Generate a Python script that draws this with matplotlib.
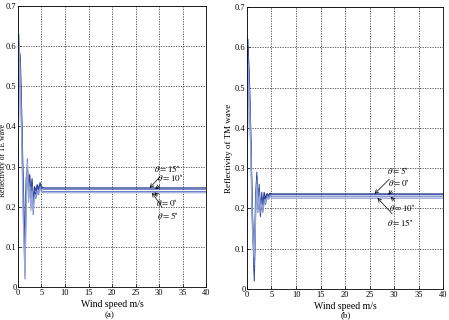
import matplotlib.pyplot as plt

plt.rcParams['font.family'] = ['Liberation Serif', 'DejaVu Serif']
plt.rcParams['mathtext.fontset'] = 'stix'

# wind speed samples (m/s)
wind = [0, 0.2, 0.5, 0.8, 1.1, 1.5, 1.75, 2.0, 2.25, 2.5, 2.75, 3.0, 3.25, 3.5, 3.8, 4.1, 4.4, 4.7, 5.0, 5.5, 40]

# TE wave reflectivity, panel (a)
te_0 = [0.15, 0.63, 0.52, 0.38, 0.20, 0.02, 0.22, 0.32, 0.22, 0.26, 0.20, 0.25, 0.18, 0.23, 0.22, 0.24, 0.23, 0.25, 0.24, 0.238, 0.238]
te_5 = [0.14, 0.62, 0.50, 0.36, 0.18, 0.03, 0.20, 0.31, 0.21, 0.25, 0.19, 0.24, 0.19, 0.22, 0.23, 0.23, 0.24, 0.245, 0.236, 0.235, 0.235]
te_10 = [0.16, 0.61, 0.55, 0.40, 0.24, 0.06, 0.25, 0.30, 0.24, 0.27, 0.22, 0.26, 0.20, 0.24, 0.23, 0.25, 0.24, 0.255, 0.246, 0.244, 0.244]
te_15 = [0.17, 0.60, 0.57, 0.43, 0.27, 0.09, 0.27, 0.29, 0.25, 0.28, 0.23, 0.27, 0.21, 0.25, 0.24, 0.255, 0.245, 0.26, 0.25, 0.247, 0.247]

# TM wave reflectivity, panel (b)
tm_0 = [0.14, 0.62, 0.50, 0.36, 0.18, 0.02, 0.20, 0.29, 0.20, 0.26, 0.18, 0.24, 0.20, 0.23, 0.22, 0.235, 0.23, 0.236, 0.234, 0.234, 0.234]
tm_5 = [0.15, 0.60, 0.52, 0.38, 0.20, 0.04, 0.22, 0.28, 0.21, 0.25, 0.19, 0.23, 0.21, 0.24, 0.225, 0.237, 0.232, 0.238, 0.236, 0.236, 0.236]
tm_10 = [0.13, 0.58, 0.48, 0.34, 0.17, 0.06, 0.18, 0.27, 0.19, 0.24, 0.19, 0.22, 0.19, 0.22, 0.21, 0.23, 0.225, 0.232, 0.229, 0.229, 0.229]
tm_15 = [0.12, 0.56, 0.46, 0.32, 0.15, 0.08, 0.17, 0.26, 0.20, 0.23, 0.20, 0.21, 0.20, 0.21, 0.22, 0.225, 0.222, 0.228, 0.225, 0.225, 0.225]

xticks = list(range(0, 41, 5))
yticks = [0, 0.1, 0.2, 0.3, 0.4, 0.5, 0.6, 0.7]

colors = ['#26378a', '#3a4fa6', '#6d83c7', '#9aa9da']

fig = plt.figure(figsize=(4.49, 3.2), dpi=100)
ax1 = fig.add_axes([0.040, 0.103, 0.419, 0.878])
ax2 = fig.add_axes([0.550, 0.097, 0.437, 0.881])


def style(ax, ylabel):
    ax.set_xlim(0, 40)
    ax.set_ylim(0, 0.7)
    ax.set_xticks(xticks)
    ax.set_yticks(yticks)
    ax.set_yticklabels(['0', '0.1', '0.2', '0.3', '0.4', '0.5', '0.6', '0.7'])
    ax.tick_params(direction='in', labelsize=6, length=2, width=0.5, pad=1.5)
    ax.tick_params(axis='y', pad=1)
    ax.grid(True, linestyle=(0, (1.5, 1.5)), color='#444444', linewidth=0.6)
    for s in ax.spines.values():
        s.set_linewidth(0.6)
    ax.set_xlabel('Wind speed m/s', fontsize=7, labelpad=2)
    ax.set_ylabel(ylabel, fontsize=6.5)


for ys, c in zip([te_15, te_10, te_0, te_5], colors):
    ax1.plot(wind, ys, color=c, linewidth=0.8)
for ys, c in zip([tm_5, tm_0, tm_10, tm_15], colors):
    ax2.plot(wind, ys, color=c, linewidth=0.8)

style(ax1, 'Reflectivity of TE wave')
style(ax2, 'Reflectivity of TM wave')
ax1.yaxis.label.set_fontsize(5.5)
ax1.yaxis.set_label_coords(-0.058, 0.45)
ax2.yaxis.set_label_coords(-0.07, 0.5)

ap = dict(arrowstyle='->', color='black', linewidth=0.5, shrinkA=0, shrinkB=0)
fs = 6.5
ax1.annotate(r'$\theta = 15^{\circ}$', xy=(28.0, 0.247), xytext=(29.0, 0.295), fontsize=fs, arrowprops=ap, va='center')
ax1.annotate(r'$\theta = 10^{\circ}$', xy=(29.2, 0.244), xytext=(29.5, 0.272), fontsize=fs, arrowprops=ap, va='center')
ax1.annotate(r'$\theta = 0^{\circ}$', xy=(29.0, 0.236), xytext=(29.3, 0.209), fontsize=fs, arrowprops=ap, va='center')
ax1.annotate(r'$\theta = 5^{\circ}$', xy=(28.5, 0.235), xytext=(29.6, 0.178), fontsize=fs, arrowprops=ap, va='center')

ax2.annotate(r'$\theta = 5^{\circ}$', xy=(26.0, 0.236), xytext=(28.5, 0.293), fontsize=fs, arrowprops=ap, va='center')
ax2.annotate(r'$\theta = 0^{\circ}$', xy=(28.8, 0.234), xytext=(28.8, 0.263), fontsize=fs, arrowprops=ap, va='center')
ax2.annotate(r'$\theta = 10^{\circ}$', xy=(29.3, 0.229), xytext=(28.9, 0.200), fontsize=fs, arrowprops=ap, va='center')
ax2.annotate(r'$\theta = 15^{\circ}$', xy=(26.6, 0.226), xytext=(28.5, 0.166), fontsize=fs, arrowprops=ap, va='center')

fig.text(0.245, 0.002, '(a)', fontsize=6.5, ha='center', va='bottom')
fig.text(0.77, 0.002, '(b)', fontsize=6.5, ha='center', va='bottom')

fig.savefig('out.png', dpi=100)
